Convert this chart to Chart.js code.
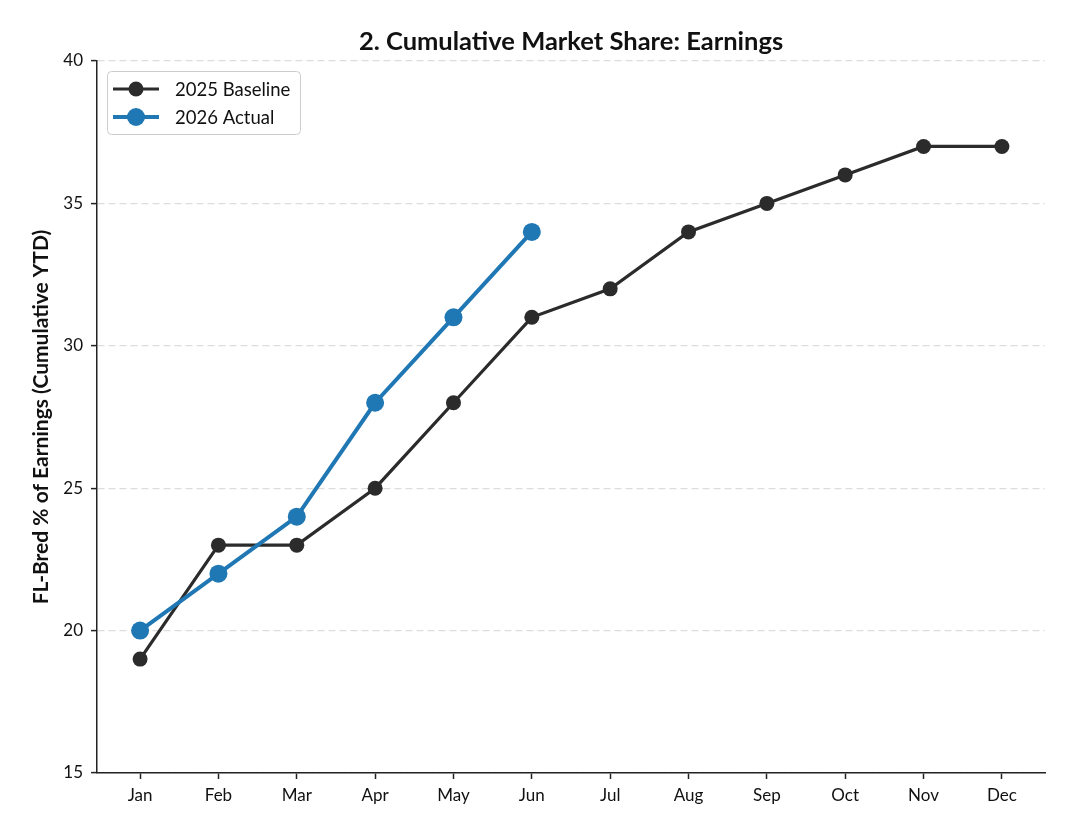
<!DOCTYPE html>
<html>
<head>
<meta charset="utf-8">
<script src="https://cdn.jsdelivr.net/npm/chart.js@4.4.1/dist/chart.umd.min.js"></script>
<style>
  html, body { margin: 0; padding: 0; background: #fff; }
  #wrap { width: 1079px; height: 835px; }
</style>
</head>
<body>
<div id="wrap"><canvas id="chart"></canvas></div>
<script>
let months = ["Jan", "Feb", "Mar", "Apr", "May", "Jun", "Jul", "Aug", "Sep", "Oct", "Nov", "Dec"];
let baseline2025 = [19, 23, 23, 25, 28, 31, 32, 34, 35, 36, 37, 37];
let actual2026 = [20, 22, 24, 28, 31, 34];
let yTicks = [15, 20, 25, 30, 35, 40];

let chartTitle = "2. Cumulative Market Share: Earnings";
let yTitle = "FL-Bred % of Earnings (Cumulative YTD)";

let toPoints = (arr) => arr.map((v, i) => ({ x: i, y: v }));

let fontFamily = "Lato, 'DejaVu Sans', sans-serif";
let axisColor = "#222222";
let textColor = "#111111";

/////////// TITLES + LEGEND /////////////

let titlePlugin = {
    id: "plotTitles",
    afterDraw(chart) {
        let ctx = chart.ctx;
        let area = chart.chartArea;
        ctx.save();
        ctx.fillStyle = textColor;
        ctx.font = "bold 25.5px " + fontFamily;
        ctx.textAlign = "center";
        ctx.textBaseline = "alphabetic";
        ctx.fillText(chartTitle, (area.left + area.right) / 2, 50);

        // y axis title, rotated
        ctx.translate(48, (area.top + area.bottom) / 2);
        ctx.rotate(-Math.PI / 2);
        ctx.font = "bold 21px " + fontFamily;
        ctx.fillText(yTitle, 0, 0);
        ctx.restore();
    },
};

let legendPlugin = {
    id: "boxLegend",
    afterDraw(chart) {
        let ctx = chart.ctx;
        let area = chart.chartArea;
        let x = area.left + 10;
        let y = area.top + 10;
        let w = 193;
        let h = 63;
        ctx.save();
        ctx.fillStyle = "rgba(255,255,255,0.8)";
        ctx.strokeStyle = "#cccccc";
        ctx.lineWidth = 1;
        ctx.beginPath();
        ctx.roundRect(x + 0.5, y + 0.5, w, h, 4);
        ctx.fill();
        ctx.stroke();

        chart.data.datasets.forEach((ds, i) => {
            let cy = y + 18 + i * 28;
            ctx.strokeStyle = ds.borderColor;
            ctx.lineWidth = ds.borderWidth;
            ctx.beginPath();
            ctx.moveTo(x + 6, cy);
            ctx.lineTo(x + 52, cy);
            ctx.stroke();
            ctx.fillStyle = ds.pointBackgroundColor;
            ctx.beginPath();
            ctx.arc(x + 29, cy, ds.pointRadius, 0, Math.PI * 2);
            ctx.fill();
            ctx.fillStyle = textColor;
            ctx.font = "18.5px " + fontFamily;
            ctx.textAlign = "left";
            ctx.textBaseline = "middle";
            ctx.fillText(ds.label, x + 68, cy + 1);
        });
        ctx.restore();
    },
};

/////////// CHART /////////////

let chartData = {
    datasets: [
        {
            label: "2025 Baseline",
            data: toPoints(baseline2025),
            borderColor: "#2b2b2b",
            backgroundColor: "#2b2b2b",
            pointBackgroundColor: "#2b2b2b",
            borderWidth: 3.2,
            pointRadius: 7.5,
            pointBorderWidth: 0,
            pointHoverRadius: 7.5,
            tension: 0,
            order: 2,
        },
        {
            label: "2026 Actual",
            data: toPoints(actual2026),
            borderColor: "#1f77b4",
            backgroundColor: "#1f77b4",
            pointBackgroundColor: "#1f77b4",
            borderWidth: 4,
            pointRadius: 9,
            pointBorderWidth: 0,
            pointHoverRadius: 9,
            tension: 0,
            order: 1,
        },
    ],
};

let chartOptions = {
    responsive: true,
    maintainAspectRatio: false,
    animation: false,
    layout: {
        padding: { top: 61, right: 34, left: 0, bottom: 0 },
    },
    scales: {
        x: {
            type: "linear",
            min: -0.55,
            max: 11.55,
            afterBuildTicks: (scale) => {
                scale.ticks = months.map((m, i) => ({ value: i }));
            },
            afterFit: (scale) => {
                scale.height = 835 - 773;
            },
            border: { display: true, color: axisColor, width: 1.5 },
            grid: {
                drawOnChartArea: false,
                drawTicks: true,
                tickLength: 6,
                tickColor: axisColor,
                tickWidth: 1.5,
            },
            ticks: {
                autoSkip: false,
                maxRotation: 0,
                padding: 6,
                color: textColor,
                font: { family: fontFamily, size: 17 },
                callback: (v) => months[v],
            },
        },
        y: {
            min: 15,
            max: 40,
            afterBuildTicks: (scale) => {
                scale.ticks = yTicks.map((v) => ({ value: v }));
            },
            afterFit: (scale) => {
                scale.width = 97;
            },
            border: { display: true, color: axisColor, width: 1.5, dash: [7, 4] },
            grid: {
                color: "#dddddd",
                lineWidth: 1.2,
                tickLength: 6,
                tickColor: axisColor,
                tickWidth: 1.5,
                tickBorderDash: [],
            },
            ticks: {
                padding: 8,
                color: textColor,
                font: { family: fontFamily, size: 17 },
            },
        },
    },
    plugins: {
        legend: { display: false },
        title: { display: false },
        tooltip: { enabled: false },
    },
};

let chartE = document.getElementById("chart");
let marketChart = new Chart(chartE, {
    type: "line",
    data: chartData,
    options: chartOptions,
    plugins: [titlePlugin, legendPlugin],
});
</script>
</body>
</html>
